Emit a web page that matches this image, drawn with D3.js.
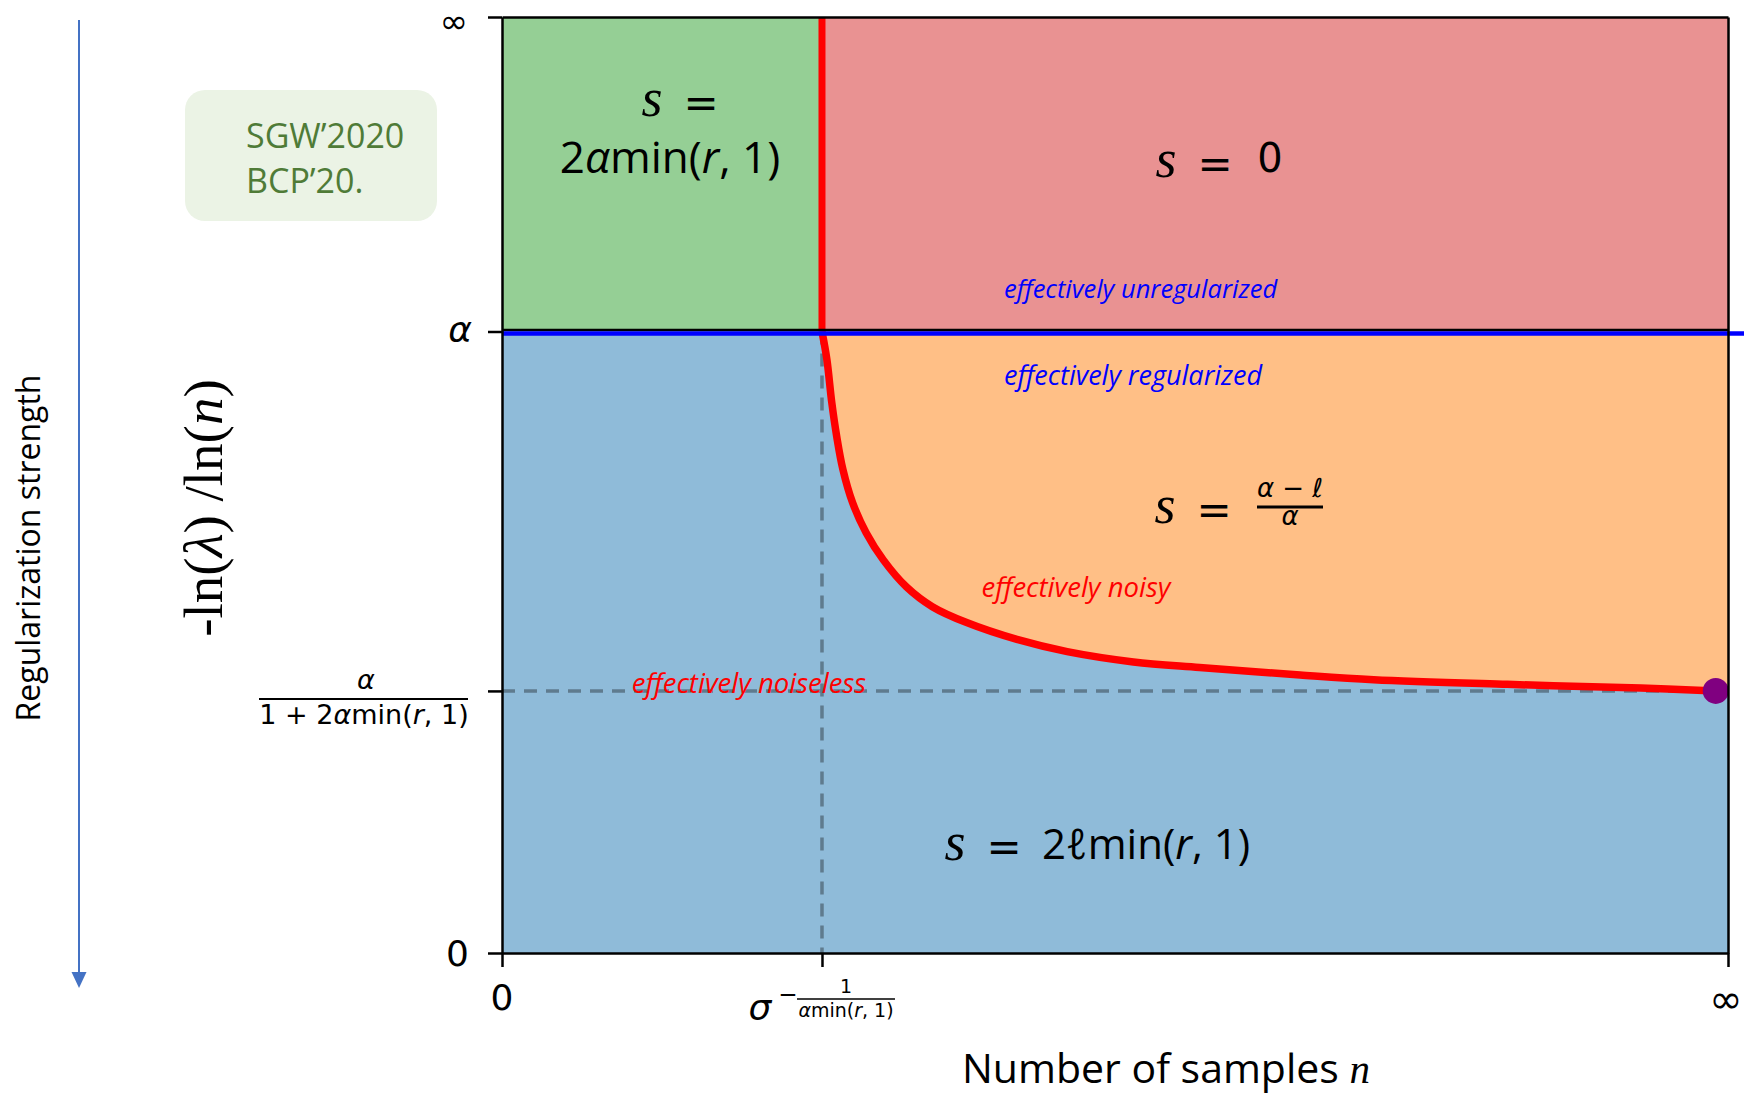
<!DOCTYPE html>
<html>
<head>
<meta charset="utf-8">
<script src="https://cdnjs.cloudflare.com/ajax/libs/d3/7.8.5/d3.min.js"></script>
<style>
  body { margin: 0; background: #fff; }
  svg { display: block; }
</style>
</head>
<body>
<div id="chart"></div>
<script>
// Values, in plot units (0..100 on both axes, 100 = infinity)
var xTicks = [0, 26.1, 100];
var yTicks = [0, 28.0, 66.4, 100];
var sigmaX = 26.1;   // sigma^(-1/(alpha min(r,1)))
var alphaY = 66.4;   // alpha
var noiseY = 28.0;   // alpha / (1 + 2 alpha min(r,1))

// Red boundary between the noisy and the noiseless regime
var curveX = [26.1, 26.5, 26.9, 27.3, 27.8, 28.6, 29.7, 31.1, 33.0, 35.1, 37.9, 42.0, 46.1, 51.5, 56.9, 65.1, 71.1, 82.0, 92.9, 99.0];
var curveY = [66.4, 63.4, 58.8, 55.2, 51.7, 48.1, 44.9, 42.0, 39.1, 37.0, 35.3, 33.5, 32.2, 31.1, 30.5, 29.7, 29.2, 28.7, 28.3, 28.0];

// Limit point at n -> infinity
var dotX = 99.0;
var dotY = 28.0;

var MATH = "'DejaVu Sans', sans-serif";
var SANS = "'Open Sans', 'DejaVu Sans', sans-serif";
var SERIF = "'Liberation Serif', 'DejaVu Serif', serif";

// Define the SVG area
var svgWidth = 1744;
var svgHeight = 1094;

var margin = {
    top: 17,
    right: 16,
    bottom: 141,
    left: 502
};

var chartWidth = svgWidth - margin.left - margin.right;
var chartHeight = svgHeight - margin.top - margin.bottom;

var svg = d3.select("#chart")
    .append("svg")
    .attr("width", svgWidth)
    .attr("height", svgHeight);

svg.append("rect")
    .attr("width", svgWidth)
    .attr("height", svgHeight)
    .attr("fill", "#fff");

var chartGroup = svg.append("g")
    .attr("transform", `translate(${margin.left}, ${margin.top})`);

// Scales
var xScale = d3.scaleLinear().domain([0, 100]).range([0, chartWidth]);
var yScale = d3.scaleLinear().domain([0, 100]).range([chartHeight, 0]);

var curveData = curveX.map(function(d, i) { return {x: d, y: curveY[i]}; });

// Regions
chartGroup.append("rect")
    .attr("x", xScale(0))
    .attr("y", yScale(alphaY))
    .attr("width", xScale(100) - xScale(0))
    .attr("height", yScale(0) - yScale(alphaY))
    .attr("fill", "#8fbbd9");

chartGroup.append("rect")
    .attr("x", xScale(0))
    .attr("y", yScale(100))
    .attr("width", xScale(sigmaX) - xScale(0))
    .attr("height", yScale(alphaY) - yScale(100))
    .attr("fill", "#95cf95");

chartGroup.append("rect")
    .attr("x", xScale(sigmaX))
    .attr("y", yScale(100))
    .attr("width", xScale(100) - xScale(sigmaX))
    .attr("height", yScale(alphaY) - yScale(100))
    .attr("fill", "#e99292");

// orange region sits between alpha and the red curve, out to the right edge
var smooth = d3.curveCatmullRom.alpha(0.5);
var orangeData = curveData.concat([{x: 100, y: curveY[curveY.length - 1]}]);
var area = d3.area()
    .x(d => xScale(d.x))
    .y0(yScale(alphaY))
    .y1(d => yScale(d.y))
    .curve(smooth);

chartGroup.append("path")
    .datum(orangeData)
    .attr("d", area)
    .attr("fill", "#ffbf86");

// Dashed guides
chartGroup.append("line")
    .attr("x1", xScale(sigmaX)).attr("x2", xScale(sigmaX))
    .attr("y1", yScale(alphaY)).attr("y2", yScale(0))
    .attr("stroke", "#5f7b8e")
    .attr("stroke-width", 3.5)
    .attr("stroke-dasharray", "13,9");

chartGroup.append("line")
    .attr("x1", xScale(0)).attr("x2", xScale(dotX))
    .attr("y1", yScale(noiseY)).attr("y2", yScale(noiseY))
    .attr("stroke", "#5f7b8e")
    .attr("stroke-width", 3.5)
    .attr("stroke-dasharray", "13,9");

// Red boundaries
chartGroup.append("line")
    .attr("x1", xScale(sigmaX)).attr("x2", xScale(sigmaX))
    .attr("y1", yScale(100)).attr("y2", yScale(alphaY))
    .attr("stroke", "#ff0000")
    .attr("stroke-width", 7);

var line = d3.line()
    .x(d => xScale(d.x))
    .y(d => yScale(d.y))
    .curve(smooth);

chartGroup.append("path")
    .datum(curveData)
    .attr("d", line)
    .attr("fill", "none")
    .attr("stroke", "#ff0000")
    .attr("stroke-width", 7.5);

// Alpha level: thin black edge plus the thick blue line running off the page
chartGroup.append("line")
    .attr("x1", xScale(0)).attr("x2", xScale(100))
    .attr("y1", yScale(alphaY) - 1.5).attr("y2", yScale(alphaY) - 1.5)
    .attr("stroke", "#000")
    .attr("stroke-width", 2.5);

chartGroup.append("line")
    .attr("x1", xScale(0)).attr("x2", svgWidth - margin.left)
    .attr("y1", yScale(alphaY) + 2).attr("y2", yScale(alphaY) + 2)
    .attr("stroke", "#0000ff")
    .attr("stroke-width", 4.5);

chartGroup.append("circle")
    .attr("cx", xScale(dotX))
    .attr("cy", yScale(dotY))
    .attr("r", 13)
    .attr("fill", "#800080");

// Axes (ticks only, labels are drawn by hand below)
var xAxis = d3.axisBottom(xScale).tickValues(xTicks).tickSize(14).tickSizeOuter(0).tickFormat("");
var yAxis = d3.axisLeft(yScale).tickValues(yTicks).tickSize(14).tickSizeOuter(0).tickFormat("");

var axes = [
    chartGroup.append("g").attr("transform", `translate(0, ${chartHeight})`).call(xAxis),
    chartGroup.append("g").call(yAxis),
    chartGroup.append("g").call(d3.axisTop(xScale).tickValues([]).tickSizeOuter(0)),
    chartGroup.append("g").attr("transform", `translate(${chartWidth}, 0)`).call(d3.axisRight(yScale).tickValues([]).tickSizeOuter(0))
];
axes.forEach(function(g) {
    g.selectAll("path, line").attr("stroke", "#000").attr("stroke-width", 2.5);
});

// Helper: text made of styled pieces
function rich(parent, x, y, parts, opts) {
    var t = parent.append("text")
        .attr("x", x)
        .attr("y", y)
        .attr("text-anchor", opts.anchor || "start")
        .attr("font-family", opts.family || MATH)
        .attr("font-size", opts.size)
        .attr("fill", opts.fill || "#000");
    if (opts.transform) t.attr("transform", opts.transform);
    if (opts.italic) t.attr("font-style", "italic");
    parts.forEach(function(p) {
        var s = t.append("tspan").text(p[0]);
        if (p[1] === "i") s.attr("font-style", "italic");
        if (p[2]) s.attr("font-family", p[2]);
    });
    return t;
}

// Y tick labels
var yLab = chartGroup.append("g");
rich(yLab, -34, yScale(100) + 16, [["∞"]], {anchor: "end", size: 34});
rich(yLab, -30, yScale(alphaY) + 11, [["α", "i"]], {anchor: "end", size: 36});
rich(yLab, -33, yScale(0) + 13, [["0"]], {anchor: "end", size: 36});

var fracG = yLab.append("g").attr("transform", `translate(0, ${yScale(noiseY)})`);
rich(fracG, -136, -2, [["α", "i"]], {anchor: "middle", size: 27});
fracG.append("line")
    .attr("x1", -243).attr("x2", -34)
    .attr("y1", 8).attr("y2", 8)
    .attr("stroke", "#000").attr("stroke-width", 2);
rich(fracG, -138, 33, [["1 + 2"], ["α", "i"], ["min("], ["r", "i"], [", 1)"]], {anchor: "middle", size: 27});

// X tick labels
var xLab = chartGroup.append("g").attr("transform", `translate(0, ${chartHeight})`);
rich(xLab, xScale(0), 57, [["0"]], {anchor: "middle", size: 36});
rich(xLab, xScale(100) - 2, 60, [["∞"]], {anchor: "middle", size: 40});

var sigG = xLab.append("g").attr("transform", `translate(${xScale(sigmaX)}, 0)`);
rich(sigG, -62, 67, [["σ", "i"]], {anchor: "middle", size: 36});
rich(sigG, -34, 49, [["−"]], {anchor: "middle", size: 23});
rich(sigG, 24, 40, [["1"]], {anchor: "middle", size: 19});
sigG.append("line")
    .attr("x1", -25).attr("x2", 73)
    .attr("y1", 46).attr("y2", 46)
    .attr("stroke", "#000").attr("stroke-width", 1.5);
rich(sigG, 24, 64, [["α", "i"], ["min("], ["r", "i"], [", 1)"]], {anchor: "middle", size: 19});

// Axis titles
rich(svg, 962, 1083, [["Number of samples "], ["n", "i", SERIF]], {family: SANS, size: 41});

rich(svg, -508, 222, [["-ln("], ["λ", "i"], [") /ln("], ["n", "i"], [")"]],
    {family: SERIF, size: 55, anchor: "middle", transform: "rotate(-90)"});

rich(svg, -548, 40, [["Regularization strength"]],
    {family: SANS, size: 32, anchor: "middle", transform: "rotate(-90)"});

// Direction arrow
svg.append("line")
    .attr("x1", 79).attr("x2", 79)
    .attr("y1", 20).attr("y2", 975)
    .attr("stroke", "#4472c4")
    .attr("stroke-width", 2);
svg.append("path")
    .attr("d", "M71.5,972 L86.5,972 L79,988 Z")
    .attr("fill", "#4472c4");

// Reference box
svg.append("rect")
    .attr("x", 185).attr("y", 90)
    .attr("width", 252).attr("height", 131)
    .attr("rx", 20)
    .attr("fill", "#ebf3e5");
rich(svg, 246, 148, [["SGW’2020"]], {family: SANS, size: 34, fill: "#4f7b37"});
rich(svg, 246, 193, [["BCP’20."]], {family: SANS, size: 34, fill: "#4f7b37"});

// Region formulas
function sEq(x, y) {
    rich(svg, x, y, [["s", "i"]], {family: SERIF, size: 54, anchor: "middle"});
    rich(svg, x + 49, y + 1, [["="]], {family: MATH, size: 42, anchor: "middle"});
}

sEq(652, 116);
rich(svg, 670, 173, [["2"], ["α", "i"], ["min("], ["r", "i"], [", 1)"]], {family: SANS, size: 44, anchor: "middle"});

sEq(1166, 177);
rich(svg, 1270, 172, [["0"]], {family: MATH, size: 40, anchor: "middle"});

sEq(1165, 523);
rich(svg, 1290, 497, [["α", "i"], [" − "], ["ℓ", "i"]], {family: MATH, size: 26, anchor: "middle"});
svg.append("line")
    .attr("x1", 1257).attr("x2", 1323)
    .attr("y1", 507).attr("y2", 507)
    .attr("stroke", "#000").attr("stroke-width", 3);
rich(svg, 1290, 525, [["α", "i"]], {family: MATH, size: 26, anchor: "middle"});

sEq(955, 860);
rich(svg, 1042, 859, [["2ℓmin("], ["r", "i"], [", 1)"]], {family: SANS, size: 42});

// Regime notes
rich(svg, 1004, 298, [["effectively unregularized"]], {family: SANS, size: 25.5, fill: "#0000ff", italic: true});
rich(svg, 1004, 385, [["effectively regularized"]], {family: SANS, size: 27, fill: "#0000ff", italic: true});
rich(svg, 1076, 597, [["effectively noisy"]], {family: SANS, size: 27.5, fill: "#ff0000", anchor: "middle", italic: true});
rich(svg, 749, 693, [["effectively noiseless"]], {family: SANS, size: 27.5, fill: "#ff0000", anchor: "middle", italic: true});
</script>
</body>
</html>
